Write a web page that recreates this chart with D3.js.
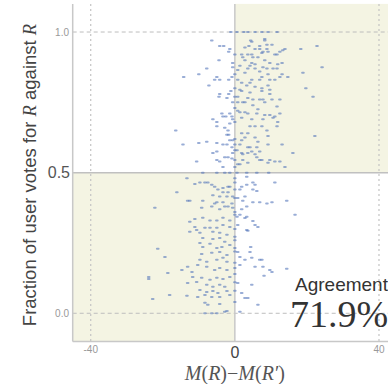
<!DOCTYPE html>
<html>
<head>
<meta charset="utf-8">
<script src="https://cdn.jsdelivr.net/npm/d3@7"></script>
<style>
  body { margin: 0; background: #fff; }
  svg { display: block; }
</style>
</head>
<body>
<script>
// x = M(R) - M(R'), y = fraction of votes for R
var votePoints = [
  [-1.1,1.0],[0.6,1.0],[2.5,1.0],[3.6,1.0],[5.6,1.0],[7.5,1.0],[9.2,1.0],[11.7,1.0],
  [-6.4,0.97],[-4.2,0.95],[-3.1,0.95],[-1.4,0.94],[-1.7,0.93],[-4.4,0.90],[-0.6,0.89],
  [-7.8,0.87],[-14.2,0.84],[-10,0.85],[-5.6,0.83],[-0.8,0.84],[-1.7,0.83],[-7.2,0.81],
  [-4.2,0.78],[-4.4,0.77],[-1.1,0.79],[-1.7,0.78],[0,0.77],[-3.6,0.71],[-6.1,0.69],
  [-5,0.68],[-2.5,0.70],[-0.8,0.70],
  [4.4,0.97],[8.3,0.97],[3.9,0.95],[5.6,0.94],[6.9,0.94],[8.9,0.94],[10.3,0.955],[13.9,0.94],
  [18.3,0.94],[22.8,0.95],[1.9,0.92],[3.6,0.92],[5,0.91],[7.8,0.93],[9.2,0.93],[11.1,0.92],
  [2.8,0.90],[4.7,0.89],[6.4,0.91],[8.3,0.90],[9.7,0.89],[13.1,0.89],[1.4,0.88],[4.2,0.88],
  [5.6,0.87],[8.9,0.87],[11.7,0.87],[24.2,0.875],[2.8,0.855],[6.9,0.86],[9.2,0.85],[13.1,0.85],
  [14.7,0.84],[18.9,0.855],[0.8,0.83],[4.7,0.83],[7.5,0.84],[11.1,0.83],[3.3,0.81],[5.6,0.805],
  [9.2,0.81],[19.7,0.80],[1.9,0.79],[4.2,0.785],[7.5,0.79],[9.7,0.78],[0.8,0.77],[3.6,0.765],
  [6.9,0.76],[21.7,0.77],[2.2,0.75],[5,0.74],[8.3,0.75],[11.7,0.735],[1.4,0.715],[3.6,0.71],
  [6.4,0.725],[9.7,0.705],[11.1,0.70],[1.9,0.695],[4.7,0.69],[7.8,0.69],[11.9,0.68],
  [12.5,0.93],[-3.3,0.70],[-1.4,0.71],[0.8,0.72],[2.8,0.715],[6.1,0.71],[8.3,0.705],[10.6,0.695],
  [12.5,0.71],[-2.2,0.765],[-0.6,0.75],[0.8,0.75],[2.8,0.75],[5,0.76],[7.8,0.76],[10.3,0.76],
  [12.5,0.76],[1.4,0.795],[7.5,0.80],[9.7,0.795],[1.9,0.82],[4.2,0.82],[6.9,0.83],[9.7,0.83],
  [12.5,0.84],[-4.2,0.83],[-5,0.84],[-0.6,0.875],[0.8,0.865],[3.6,0.87],[5.6,0.885],[7.8,0.875],
  [10.6,0.87],[11.9,0.885],[2.2,0.91],[4.7,0.92],[7.5,0.925],[11.7,0.92],[13.3,0.935],
  [2.8,0.945],[6.9,0.95],[8.9,0.955],[4.7,0.965],[8.3,0.975],
  [-16.4,0.65],[-2.8,0.66],[-1.9,0.65],[-1.7,0.635],[-14.4,0.60],[-10,0.605],[-7.8,0.61],
  [-5,0.605],[-3.3,0.60],[-0.8,0.59],[-6.1,0.57],[-5,0.575],[-1.9,0.555],[-0.8,0.55],
  [-5,0.545],[-10.6,0.54],[-4.2,0.54],[-2.8,0.555],[-0.6,0.57],[-2.2,0.635],[-0.6,0.615],
  [-2.2,0.60],[-1.4,0.675],[-0.6,0.69],[-5,0.665],[-3.3,0.52],[-1.4,0.615],
  [4.2,0.665],[5.6,0.665],[7.5,0.665],[11.7,0.665],[1.9,0.64],[8.9,0.65],[2.8,0.625],
  [5.6,0.625],[6.4,0.61],[22.2,0.63],[9.2,0.60],[13.1,0.60],[1.4,0.60],[3.6,0.59],[1.9,0.57],
  [4.7,0.575],[5.6,0.565],[16.1,0.57],[2.2,0.545],[7.5,0.545],[9.2,0.535],[11.1,0.54],
  [13.9,0.52],[3.6,0.535],[1.4,0.53],[0,0.60],[4.2,0.59],[6.1,0.59],[0,0.545],[2.2,0.565],
  [3.6,0.57],[6.1,0.555],[9.7,0.545],[12.5,0.54],[0.8,0.53],[0.6,0.58],[1.9,0.615],[3.6,0.64],
  [6.9,0.575],[6.9,0.545],[9.2,0.63],
  [-8.9,0.5],[-5,0.5],[-2.8,0.5],[-1.4,0.5],[0.6,0.5],[3.3,0.5],[6.1,0.5],[9.4,0.5],
  [-13.3,0.48],[-11.1,0.46],[-9.7,0.465],[-8.3,0.465],[-7.5,0.465],[-6.4,0.457],[-5.6,0.45],
  [-4.7,0.44],[-3.3,0.445],[-1.9,0.45],[-16.1,0.43],[-6.1,0.42],[-4.2,0.415],[-1.9,0.43],
  [-0.6,0.415],[-12.5,0.40],[-8.9,0.40],[-5,0.395],[-22.2,0.375],[-9.2,0.375],[-6.4,0.38],
  [-4.2,0.37],[-1.9,0.38],[-3.3,0.43],[-2.2,0.415],[-1.4,0.45],[0,0.465],[-0.8,0.39],
  [-3.3,0.395],[-5.6,0.39],[-2.8,0.38],[-0.6,0.375],[-13.1,0.40],
  [3.3,0.485],[11.1,0.465],[1.9,0.45],[1.4,0.44],[5.6,0.457],[6.1,0.435],[2.8,0.415],
  [0.8,0.41],[2.2,0.40],[8.9,0.39],[10.3,0.395],[14.4,0.40],[3.3,0.38],[1.9,0.37],[16.7,0.35],
  [3.3,0.457],[5,0.44],[5,0.465],[5,0.395],[6.9,0.395],[1.4,0.35],[0,0.35],
  [-12.5,0.325],[-11.1,0.335],[-8.9,0.34],[-6.9,0.33],[-5,0.33],[-3.3,0.34],[-1.4,0.33],
  [-11.1,0.307],[-10.6,0.296],[-8.3,0.304],[-6.9,0.304],[-5,0.304],[-3.3,0.314],[-1.4,0.307],
  [-12.5,0.29],[-9.7,0.286],[-6.1,0.29],[-4.2,0.286],[-2.2,0.279],[-8.9,0.268],[-6.1,0.264],
  [-4.2,0.268],[-2.8,0.254],[0,0.272],[-9.7,0.25],[-6.9,0.247],[-5,0.232],[-3.6,0.236],
  [-1.4,0.243],[0,0.232],[-21.4,0.229],[-9.2,0.211],[-6.4,0.215],[-4.2,0.218],[-2.2,0.207],
  [-19.4,0.20],[-9.7,0.19],[-7.8,0.183],[-5,0.19],[-3.3,0.197],[-2.2,0.183],[-13.1,0.165],
  [-10.3,0.172],[-7.8,0.165],[-5.6,0.154],[-4.2,0.161],[-2.2,0.154],[0,0.161],[-14.7,0.154],
  [-11.9,0.147],[-18.6,0.143],[-23.9,0.129],[-23.9,0.122],[-11.7,0.129],[-9.2,0.126],
  [-6.9,0.119],[-5,0.126],[-3.3,0.122],[-1.4,0.129],[-13.1,0.108],[-10.6,0.111],[-7.8,0.101],
  [-6.1,0.094],[-4.2,0.101],[-2.8,0.094],[-9.7,0.083],[-7.8,0.076],[-6.1,0.079],[-4.7,0.072],
  [-2.2,0.079],[-22.8,0.051],[-18.1,0.065],[-13.3,0.062],[-10.3,0.058],[-8.3,0.065],
  [-6.4,0.058],[-4.2,0.058],[-1.4,0.065],[-8.3,0.037],[-7.5,0.03],[-4.2,0.033],[-8.3,0],
  [-6.4,0],[-5,0],[-2.8,0.005],[-2.2,0.008],[-8.9,0.236],
  [0.6,0.343],[2.8,0.339],[0.8,0.314],[3.6,0.293],[5.6,0.314],[6.4,0.307],[4.4,0.236],
  [0.8,0.218],[4.2,0.218],[7.5,0.19],[1.4,0.172],[5.6,0.165],[14.4,0.158],[10.3,0.147],
  [8.1,0.133],[0.8,0.108],[4.7,0.101],[1.9,0.072],[2.8,0.054],[3.6,0.054],[6.4,0.03],
  [1.4,0.005],[2.8,0.19],[4.7,0.197],[6.9,0.19],[9.7,0.154],[7.8,0.165],[3.3,0.296],
  [5,0.328],[3.3,0.343],[1.4,0.20],
  [0,0.92],[0,0.85],[0,0.80],[0,0.73],[0,0.68],[0,0.62],[0,0.58],[0,0.52],[0,0.48],[0,0.44],
  [0,0.41],[0,0.36],[0,0.30],[0,0.26],[0,0.22],[0,0.18],[0,0.14],[0,0.11],[0,0.08],[0,0.04]
];

var xTicks = [-40, 0, 40];
var xTickLabels = ['-40', '0', '40'];
var yTicks = [0, 0.5, 1];
var yTickLabels = ['0.0', '0.5', '1.0'];
var agreement = '71.9%';

var W = 388, H = 384;
var x = d3.scaleLinear().domain([-45, 45]).range([72.7, 397]);
var y = d3.scaleLinear().domain([-0.1, 1.1]).range([341.4, 3.9]);

var svg = d3.select('body').append('svg')
  .attr('width', W).attr('height', H);

// shaded agreement quadrants
svg.append('rect')
  .attr('x', x(0)).attr('y', y(1.1))
  .attr('width', x(45) - x(0)).attr('height', y(0.5) - y(1.1))
  .attr('fill', '#f4f4e3');
svg.append('rect')
  .attr('x', x(-45)).attr('y', y(0.5))
  .attr('width', x(0) - x(-45)).attr('height', y(-0.1) - y(0.5))
  .attr('fill', '#f4f4e3');

// dashed guides
svg.selectAll('line.vgrid')
  .data([xTicks[0], xTicks[2]])
  .enter().append('line')
  .attr('class', 'vgrid')
  .attr('x1', function(d){return x(d);}).attr('x2', function(d){return x(d);})
  .attr('y1', y(1.1)).attr('y2', y(-0.1))
  .attr('stroke', '#c4c4c4').attr('stroke-width', 1.2)
  .attr('stroke-dasharray', '2,3');
svg.selectAll('line.hgrid')
  .data([yTicks[0], yTicks[2]])
  .enter().append('line')
  .attr('class', 'hgrid')
  .attr('x1', x(-45)).attr('x2', W)
  .attr('y1', function(d){return y(d);}).attr('y2', function(d){return y(d);})
  .attr('stroke', '#bdbdbd').attr('stroke-width', 1)
  .attr('stroke-dasharray', '4,3');

// centre lines
svg.append('line')
  .attr('x1', x(0)).attr('x2', x(0)).attr('y1', y(1.1)).attr('y2', y(-0.1))
  .attr('stroke', '#c8c8c8').attr('stroke-width', 1.5);
svg.append('line')
  .attr('x1', x(-45)).attr('x2', W).attr('y1', y(0.5)).attr('y2', y(0.5))
  .attr('stroke', '#c0c0c0').attr('stroke-width', 1.5);

// spines
svg.append('line')
  .attr('x1', x(-45)).attr('x2', x(-45)).attr('y1', y(1.1)).attr('y2', y(-0.1))
  .attr('stroke', '#c8c8c8').attr('stroke-width', 1.5);
svg.append('line')
  .attr('x1', x(-45)).attr('x2', W).attr('y1', y(-0.1)).attr('y2', y(-0.1))
  .attr('stroke', '#c8c8c8').attr('stroke-width', 1.5);

// points
svg.append('g').selectAll('rect')
  .data(votePoints)
  .enter().append('rect')
  .attr('x', function(d){return x(d[0]) - 1.8;})
  .attr('y', function(d){return y(d[1]) - 1;})
  .attr('width', 3.6).attr('height', 2)
  .attr('rx', 1)
  .attr('fill', '#5577bb')
  .attr('opacity', 0.6);

// tick labels
svg.selectAll('text.ytick')
  .data(yTicks)
  .enter().append('text')
  .attr('class', 'ytick')
  .attr('x', function(d){return d === 0.5 ? 70 : 69;})
  .attr('y', function(d){return y(d);})
  .attr('dy', '0.35em')
  .attr('text-anchor', 'end')
  .attr('font-family', 'Liberation Sans, Arial, sans-serif')
  .attr('font-size', function(d){return d === 0.5 ? 16 : 10;})
  .attr('fill', function(d){return d === 0.5 ? '#555' : '#999';})
  .text(function(d, i){return yTickLabels[i];});

svg.selectAll('text.xtick')
  .data(xTicks)
  .enter().append('text')
  .attr('class', 'xtick')
  .attr('x', function(d){return x(d);})
  .attr('y', function(d){return d === 0 ? 358 : 353;})
  .attr('text-anchor', 'middle')
  .attr('font-family', 'Liberation Sans, Arial, sans-serif')
  .attr('font-size', function(d){return d === 0 ? 16 : 10;})
  .attr('fill', function(d){return d === 0 ? '#444' : '#999';})
  .text(function(d, i){return xTickLabels[i];});

// y axis label
var yl = svg.append('text')
  .attr('transform', 'translate(36,175) rotate(-90)')
  .attr('text-anchor', 'middle')
  .attr('font-family', 'Liberation Sans, Arial, sans-serif')
  .attr('font-size', 18.5)
  .attr('fill', '#444');
yl.append('tspan').text('Fraction of user votes for ');
yl.append('tspan').attr('font-family', 'Liberation Serif, serif').attr('font-style', 'italic').text('R');
yl.append('tspan').text(' against ');
yl.append('tspan').attr('font-family', 'Liberation Serif, serif').attr('font-style', 'italic').text('R');

// x axis label
var xl = svg.append('text')
  .attr('x', x(0)).attr('y', 380)
  .attr('text-anchor', 'middle')
  .attr('font-family', 'Liberation Serif, serif')
  .attr('font-size', 20)
  .attr('fill', '#555');
xl.append('tspan').attr('font-style', 'italic').text('M');
xl.append('tspan').text('(');
xl.append('tspan').attr('font-style', 'italic').text('R');
xl.append('tspan').text(')\u2212');
xl.append('tspan').attr('font-style', 'italic').text('M');
xl.append('tspan').text('(');
xl.append('tspan').attr('font-style', 'italic').text('R\u2032');
xl.append('tspan').text(')');

// agreement annotation
svg.append('text')
  .attr('x', 295).attr('y', 291)
  .attr('font-family', 'Liberation Sans, Arial, sans-serif')
  .attr('font-size', 19)
  .attr('fill', '#333')
  .text('Agreement');
svg.append('text')
  .attr('x', 290).attr('y', 327)
  .attr('font-family', 'Liberation Serif, serif')
  .attr('font-size', 38)
  .attr('fill', '#333')
  .text(agreement);
</script>
</body>
</html>
